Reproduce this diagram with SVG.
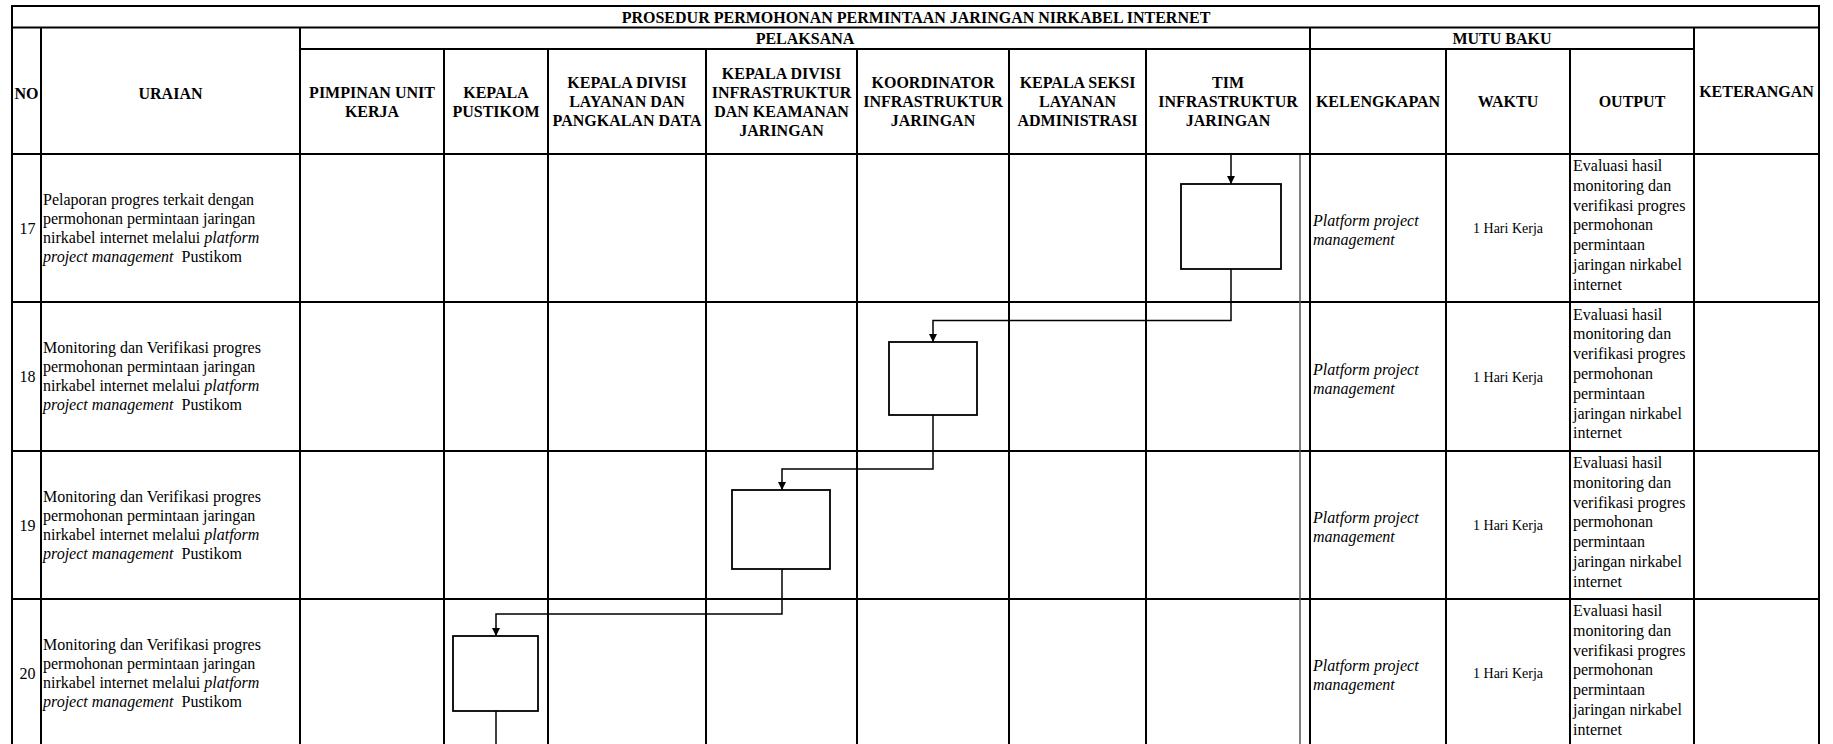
<svg xmlns="http://www.w3.org/2000/svg" width="1833" height="744" viewBox="0 0 1833 744">
<style>
text{font-family:"Liberation Serif","Times New Roman",serif;fill:#000}
.h{font-size:16px;font-weight:bold;text-anchor:middle}
.b{font-size:16px}
.c{text-anchor:middle}
.w{font-size:14px;text-anchor:middle}
.i{font-style:italic}
.grid line{stroke:#000;stroke-width:2}
.box{fill:#fff;stroke:#000;stroke-width:1.8}
.conn{fill:none;stroke:#000;stroke-width:1.5}
</style>
<defs>
<marker id="arr" markerUnits="userSpaceOnUse" markerWidth="9" markerHeight="9" refX="8" refY="4" orient="auto">
<path d="M0,0 L8,4 L0,8 z" fill="#000"/>
</marker>
</defs>
<rect width="1833" height="744" fill="#fff"/>
<g id="table" class="grid">
<line x1="11" y1="6" x2="1820" y2="6"/>
<line x1="11" y1="27.5" x2="1820" y2="27.5"/>
<line x1="300" y1="49" x2="1694" y2="49"/>
<line x1="11" y1="154" x2="1820" y2="154"/>
<line x1="11" y1="302" x2="1820" y2="302"/>
<line x1="11" y1="451" x2="1820" y2="451"/>
<line x1="11" y1="599" x2="1820" y2="599"/>
<line x1="12" y1="5" x2="12" y2="744"/>
<line x1="1819" y1="5" x2="1819" y2="744"/>
<line x1="41" y1="27.5" x2="41" y2="744"/>
<line x1="300" y1="27.5" x2="300" y2="744"/>
<line x1="1310" y1="27.5" x2="1310" y2="744"/>
<line x1="1694" y1="27.5" x2="1694" y2="744"/>
<line x1="444" y1="49" x2="444" y2="744"/>
<line x1="548" y1="49" x2="548" y2="744"/>
<line x1="706" y1="49" x2="706" y2="744"/>
<line x1="857" y1="49" x2="857" y2="744"/>
<line x1="1009" y1="49" x2="1009" y2="744"/>
<line x1="1146" y1="49" x2="1146" y2="744"/>
<line x1="1446" y1="49" x2="1446" y2="744"/>
<line x1="1570" y1="49" x2="1570" y2="744"/>
<line x1="1300" y1="155" x2="1300" y2="744" style="stroke:#555;stroke-width:1.5"/>
</g>
<g id="header">
<text class="h" x="916" y="22.5">PROSEDUR PERMOHONAN PERMINTAAN JARINGAN NIRKABEL INTERNET</text>
<text class="h" x="805" y="44">PELAKSANA</text>
<text class="h" x="1502" y="44">MUTU BAKU</text>
<text class="h" x="26.5" y="99">NO</text>
<text class="h" x="170.5" y="99">URAIAN</text>
<text class="h" x="1756.5" y="96.5">KETERANGAN</text>
<text class="h" x="372" y="97.5">PIMPINAN UNIT<tspan x="372" dy="19">KERJA</tspan></text>
<text class="h" x="496" y="97.5">KEPALA<tspan x="496" dy="19">PUSTIKOM</tspan></text>
<text class="h" x="627" y="88">KEPALA DIVISI<tspan x="627" dy="19">LAYANAN DAN</tspan><tspan x="627" dy="19">PANGKALAN DATA</tspan></text>
<text class="h" x="781.5" y="78.5">KEPALA DIVISI<tspan x="781.5" dy="19">INFRASTRUKTUR</tspan><tspan x="781.5" dy="19">DAN KEAMANAN</tspan><tspan x="781.5" dy="19">JARINGAN</tspan></text>
<text class="h" x="933" y="88">KOORDINATOR<tspan x="933" dy="19">INFRASTRUKTUR</tspan><tspan x="933" dy="19">JARINGAN</tspan></text>
<text class="h" x="1077.5" y="88">KEPALA SEKSI<tspan x="1077.5" dy="19">LAYANAN</tspan><tspan x="1077.5" dy="19">ADMINISTRASI</tspan></text>
<text class="h" x="1228" y="88">TIM<tspan x="1228" dy="19">INFRASTRUKTUR</tspan><tspan x="1228" dy="19">JARINGAN</tspan></text>
<text class="h" x="1378" y="107">KELENGKAPAN</text>
<text class="h" x="1508" y="107">WAKTU</text>
<text class="h" x="1632" y="107">OUTPUT</text>
</g>
<g id="row17">
<text class="b c" x="27.5" y="233.5">17</text>
<text class="b" x="43" y="204.5">Pelaporan progres terkait dengan<tspan x="43" dy="19">permohonan permintaan jaringan</tspan><tspan x="43" dy="19">nirkabel internet melalui <tspan class="i">platform</tspan></tspan><tspan x="43" dy="19" class="i">project management</tspan><tspan dx="8">Pustikom</tspan></text>
<text class="b i" x="1313" y="226">Platform project<tspan x="1313" dy="19">management</tspan></text>
<text class="w" x="1508" y="233">1 Hari Kerja</text>
<text class="b" x="1573" y="171">Evaluasi hasil<tspan x="1573" dy="19.8">monitoring dan</tspan><tspan x="1573" dy="19.8">verifikasi progres</tspan><tspan x="1573" dy="19.8">permohonan</tspan><tspan x="1573" dy="19.8">permintaan</tspan><tspan x="1573" dy="19.8">jaringan nirkabel</tspan><tspan x="1573" dy="19.8">internet</tspan></text>
</g>
<g id="row18">
<text class="b c" x="27.5" y="382">18</text>
<text class="b" x="43" y="353">Monitoring dan Verifikasi progres<tspan x="43" dy="19">permohonan permintaan jaringan</tspan><tspan x="43" dy="19">nirkabel internet melalui <tspan class="i">platform</tspan></tspan><tspan x="43" dy="19" class="i">project management</tspan><tspan dx="8">Pustikom</tspan></text>
<text class="b i" x="1313" y="374.5">Platform project<tspan x="1313" dy="19">management</tspan></text>
<text class="w" x="1508" y="381.5">1 Hari Kerja</text>
<text class="b" x="1573" y="319.5">Evaluasi hasil<tspan x="1573" dy="19.8">monitoring dan</tspan><tspan x="1573" dy="19.8">verifikasi progres</tspan><tspan x="1573" dy="19.8">permohonan</tspan><tspan x="1573" dy="19.8">permintaan</tspan><tspan x="1573" dy="19.8">jaringan nirkabel</tspan><tspan x="1573" dy="19.8">internet</tspan></text>
</g>
<g id="row19">
<text class="b c" x="27.5" y="530.5">19</text>
<text class="b" x="43" y="501.5">Monitoring dan Verifikasi progres<tspan x="43" dy="19">permohonan permintaan jaringan</tspan><tspan x="43" dy="19">nirkabel internet melalui <tspan class="i">platform</tspan></tspan><tspan x="43" dy="19" class="i">project management</tspan><tspan dx="8">Pustikom</tspan></text>
<text class="b i" x="1313" y="523">Platform project<tspan x="1313" dy="19">management</tspan></text>
<text class="w" x="1508" y="530">1 Hari Kerja</text>
<text class="b" x="1573" y="468">Evaluasi hasil<tspan x="1573" dy="19.8">monitoring dan</tspan><tspan x="1573" dy="19.8">verifikasi progres</tspan><tspan x="1573" dy="19.8">permohonan</tspan><tspan x="1573" dy="19.8">permintaan</tspan><tspan x="1573" dy="19.8">jaringan nirkabel</tspan><tspan x="1573" dy="19.8">internet</tspan></text>
</g>
<g id="row20">
<text class="b c" x="27.5" y="678.5">20</text>
<text class="b" x="43" y="649.5">Monitoring dan Verifikasi progres<tspan x="43" dy="19">permohonan permintaan jaringan</tspan><tspan x="43" dy="19">nirkabel internet melalui <tspan class="i">platform</tspan></tspan><tspan x="43" dy="19" class="i">project management</tspan><tspan dx="8">Pustikom</tspan></text>
<text class="b i" x="1313" y="671">Platform project<tspan x="1313" dy="19">management</tspan></text>
<text class="w" x="1508" y="678">1 Hari Kerja</text>
<text class="b" x="1573" y="616">Evaluasi hasil<tspan x="1573" dy="19.8">monitoring dan</tspan><tspan x="1573" dy="19.8">verifikasi progres</tspan><tspan x="1573" dy="19.8">permohonan</tspan><tspan x="1573" dy="19.8">permintaan</tspan><tspan x="1573" dy="19.8">jaringan nirkabel</tspan><tspan x="1573" dy="19.8">internet</tspan></text>
</g>
<g id="connectors" class="conn">
<path class="conn" d="M1231,155 V184" marker-end="url(#arr)"/>
<path class="conn" d="M1231,269 V320.5 H933 V342" marker-end="url(#arr)"/>
<path class="conn" d="M933,415 V469 H782 V490" marker-end="url(#arr)"/>
<path class="conn" d="M782,569 V614 H496 V636" marker-end="url(#arr)"/>
<path class="conn" d="M496,711 V744"/>
</g>
<g id="node17"><rect class="box" x="1181" y="184" width="100" height="85"/></g>
<g id="node18"><rect class="box" x="889" y="342" width="88" height="73"/></g>
<g id="node19"><rect class="box" x="732" y="490" width="98" height="79"/></g>
<g id="node20"><rect class="box" x="453" y="636" width="85" height="75"/></g>
</svg>
